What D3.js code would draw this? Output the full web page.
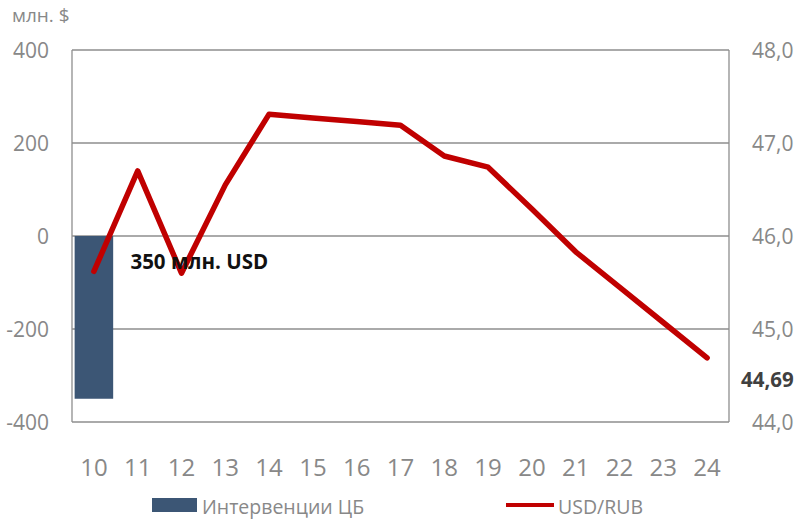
<!DOCTYPE html>
<html>
<head>
<meta charset="utf-8">
<script src="https://cdn.jsdelivr.net/npm/d3@7"></script>
<style>
    body { margin: 0; background: #fff; }
    svg { display: block; font-family: "Open Sans", "Noto Sans", sans-serif; }
</style>
</head>
<body>
<svg id="chart" width="795" height="519"></svg>
<script>
// days of the month
const days = ["10", "11", "12", "13", "14", "15", "16", "17", "18", "19", "20", "21", "22", "23", "24"];
// CB interventions, mln $ (only one day)
const interventions = [-350, null, null, null, null, null, null, null, null, null, null, null, null, null, null];
// USD/RUB rate
const usdRub = [45.62, 46.70, 45.60, 46.55, 47.31, 47.27, 47.23, 47.19, 46.86, 46.74, 46.29, 45.83, 45.45, 45.07, 44.69];

const leftTicks = [-400, -200, 0, 200, 400];
const rightTicks = [44, 45, 46, 47, 48];
const leftUnit = "млн. $";
const barNote = "350 млн. USD";
const lastRate = "44,69";
const legendBar = "Интервенции ЦБ";
const legendLine = "USD/RUB";

const area = {left: 72, right: 729, top: 50, bottom: 422};
const gray = "#888888";
const gridColor = "#8e8e8e";
const barColor = "#3c5675";
const lineColor = "#c00000";

const svg = d3.select("#chart");

const x = d3.scaleBand().domain(days).range([area.left, area.right]).paddingInner(0.12).paddingOuter(0.06);
const yL = d3.scaleLinear().domain([-400, 400]).range([area.bottom, area.top]);
const yR = d3.scaleLinear().domain([44, 48]).range([area.bottom, area.top]);

const fmtR = d3.formatLocale({decimal: ",", thousands: " ", grouping: [3], currency: ["", ""]}).format(".1f");

// grid lines
svg.append("g").selectAll("line").data(leftTicks).enter()
    .append("line")
    .attr("x1", area.left).attr("x2", area.right)
    .attr("y1", d => yL(d)).attr("y2", d => yL(d))
    .attr("stroke", gridColor).attr("stroke-width", 1.3);

// frame sides
svg.append("line").attr("x1", area.left).attr("x2", area.left).attr("y1", area.top).attr("y2", area.bottom)
    .attr("stroke", gridColor).attr("stroke-width", 1.3);
svg.append("line").attr("x1", area.right).attr("x2", area.right).attr("y1", area.top).attr("y2", area.bottom)
    .attr("stroke", gridColor).attr("stroke-width", 1.3);

// bars
svg.append("g").selectAll("rect")
    .data(days.map((d, i) => ({day: d, v: interventions[i]})).filter(d => d.v !== null))
    .enter().append("rect")
    .attr("x", d => x(d.day))
    .attr("width", x.bandwidth())
    .attr("y", d => yL(Math.max(0, d.v)))
    .attr("height", d => Math.abs(yL(d.v) - yL(0)))
    .attr("fill", barColor);

// line
const line = d3.line()
    .x((d, i) => x(days[i]) + x.bandwidth() / 2)
    .y(d => yR(d));

svg.append("path")
    .datum(usdRub)
    .attr("d", line)
    .attr("fill", "none")
    .attr("stroke", lineColor)
    .attr("stroke-width", 5.5)
    .attr("stroke-linejoin", "round")
    .attr("stroke-linecap", "round");

// left axis labels
svg.append("g").selectAll("text").data(leftTicks).enter()
    .append("text")
    .attr("x", 49).attr("y", d => yL(d)).attr("dy", "0.36em")
    .attr("text-anchor", "end")
    .attr("font-size", 21).attr("fill", gray)
    .text(d => d);

// right axis labels
svg.append("g").selectAll("text").data(rightTicks).enter()
    .append("text")
    .attr("x", 752).attr("y", d => yR(d)).attr("dy", "0.36em")
    .attr("font-size", 21).attr("fill", gray)
    .text(d => fmtR(d));

// x labels
svg.append("g").selectAll("text").data(days).enter()
    .append("text")
    .attr("x", d => x(d) + x.bandwidth() / 2).attr("y", 476)
    .attr("text-anchor", "middle")
    .attr("font-size", 24).attr("fill", gray)
    .text(d => d);

// unit
svg.append("text").attr("x", 12).attr("y", 22)
    .attr("font-size", 19).attr("fill", gray)
    .text(leftUnit);

// annotations
svg.append("text")
    .attr("x", x("11") + 12).attr("y", yL(-70))
    .attr("font-size", 20.5).attr("font-weight", "bold").attr("fill", "#111")
    .text(barNote);

svg.append("text")
    .attr("x", area.right + 12).attr("y", yR(usdRub[usdRub.length - 1]) + 29)
    .attr("font-size", 20.5).attr("font-weight", "bold").attr("fill", "#404040")
    .text(lastRate);

// legend
const lg = svg.append("g");
lg.append("rect").attr("x", 152).attr("y", 498).attr("width", 45).attr("height", 14).attr("fill", barColor);
lg.append("text").attr("x", 202).attr("y", 514)
    .attr("font-size", 19.5).attr("fill", gray).text(legendBar);
lg.append("line").attr("x1", 506).attr("x2", 554).attr("y1", 505).attr("y2", 505)
    .attr("stroke", lineColor).attr("stroke-width", 4);
lg.append("text").attr("x", 558).attr("y", 514)
    .attr("font-size", 19.5).attr("fill", gray).text(legendLine);
</script>
</body>
</html>
